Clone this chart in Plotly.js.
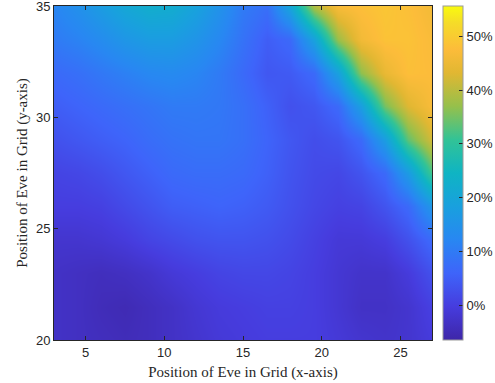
<!DOCTYPE html>
<html>
<head>
<meta charset="utf-8">
<script src="https://cdn.plot.ly/plotly-3.0.1.min.js"></script>
<style>html,body{margin:0;padding:0;background:#fff;}#chart{width:495px;height:383px;}</style>
</head>
<body>
<div id="chart"></div>
<script>
// Eve position grid (x, y) and percentage values (rows follow yPos)
const xPos = [3, 4.5, 6, 7.5, 9, 10.5, 12, 13.5, 15, 16.5, 18, 19.5, 21, 22.5, 24, 25.5, 27];
const yPos = [20, 21.5, 23, 24.5, 26, 27.5, 29, 30.5, 32, 33.5, 35];
const row20   = [-3, -3.5, -4, -4.5, -4, -3, -2, -1, -0.5, 0, 0, 0, -1, -2, -2.5, -2, -0.5];
const row21_5 = [-3, -3.5, -4.5, -5, -4, -3, -1.5, -0.5, 0, 0.5, 0.5, 0, -1.5, -3, -3, -2, 0.5];
const row23   = [-3, -3.5, -4, -3.5, -2.5, -1, 0, 1, 1.5, 1.5, 1, 0, -1.5, -2.5, -2.5, -0.5, 3];
const row24_5 = [-2, -2, -1.5, -0.5, 1, 2, 3, 3.5, 3.5, 3, 2, 0.5, -1, -1, 0, 3, 7];
const row26   = [0, 0, 0.5, 2, 3.5, 5, 5.5, 6, 5.5, 4.5, 3, 1.5, 0.5, 1, 3.5, 7, 16];
const row27_5 = [1, 1.5, 2.5, 4, 5.5, 7, 7.5, 7.5, 7, 5.5, 3.5, 2, 1.5, 3.5, 7, 17, 32];
const row29   = [3, 4, 5, 6, 7.5, 8.5, 9, 9, 8, 6, 4, 2.5, 3.5, 7, 17.5, 33.5, 42];
const row30_5 = [5, 6, 7, 8, 9, 10, 10, 9.5, 8, 5.5, 3, 4, 7, 18, 35, 43, 47];
const row32   = [7, 8, 9.5, 11, 12.5, 13, 12, 10, 7, 4, 4.5, 7, 18.5, 36.5, 44.5, 48, 47.5];
const row33_5 = [10, 11.5, 13.5, 16, 17.5, 17.5, 15.5, 12.5, 8.5, 5, 7, 19, 37.5, 46, 48.5, 48.5, 47];
const row35   = [12, 14.5, 17.5, 20.5, 22.5, 22, 19, 15, 10, 8, 20, 39, 47, 48, 49, 48, 46];
const zValues = [row20, row21_5, row23, row24_5, row26, row27_5, row29, row30_5, row32, row33_5, row35];
const cbTicks = [0, 10, 20, 30, 40, 50];

const parula = [
  [0.0, 'rgb(62,38,168)'],
  [0.1, 'rgb(70,60,222)'],
  [0.2, 'rgb(62,100,250)'],
  [0.3, 'rgb(40,135,242)'],
  [0.4, 'rgb(25,160,222)'],
  [0.5, 'rgb(15,180,195)'],
  [0.6, 'rgb(50,195,150)'],
  [0.7, 'rgb(150,192,75)'],
  [0.8, 'rgb(225,183,50)'],
  [0.87, 'rgb(252,188,58)'],
  [0.95, 'rgb(245,220,40)'],
  [1.0, 'rgb(249,251,14)']
];

const tickFont = {family: 'Liberation Sans, Arial, sans-serif', size: 13, color: '#262626'};
const titleFont = {family: 'Liberation Serif, Times New Roman, serif', size: 15, color: '#262626'};

const data = [{
  type: 'heatmap',
  x: xPos,
  y: yPos,
  z: zValues,
  zsmooth: 'best',
  colorscale: parula,
  zmin: -6.4,
  zmax: 55.6,
  colorbar: {
    x: 1.029, xanchor: 'left', xpad: 0,
    y: 0.5, yanchor: 'middle', ypad: 0,
    len: 1, lenmode: 'fraction',
    thickness: 20,
    outlinecolor: '#9a9a9a', outlinewidth: 1,
    tickvals: cbTicks,
    ticktext: cbTicks.map(v => v + '%'),
    ticks: 'inside', ticklen: 4, tickcolor: '#262626',
    tickfont: tickFont
  }
}];

const layout = {
  width: 495, height: 383,
  margin: {l: 54, r: 63, t: 6, b: 43, autoexpand: false},
  paper_bgcolor: '#fff', plot_bgcolor: '#fff',
  xaxis: {
    range: [3, 27],
    tickvals: [5, 10, 15, 20, 25],
    ticks: 'inside', ticklen: 4, tickcolor: '#262626',
    showgrid: false, zeroline: false,
    showline: true, mirror: 'ticks', linecolor: '#262626', linewidth: 1,
    tickfont: tickFont,
    title: {text: 'Position of Eve in Grid (x-axis)', font: titleFont, standoff: 7}
  },
  yaxis: {
    range: [20, 35.0001],
    tickvals: [20, 25, 30, 35],
    ticks: 'inside', ticklen: 4, tickcolor: '#262626',
    ticklabeloverflow: 'allow',
    showgrid: false, zeroline: false,
    showline: true, mirror: 'ticks', linecolor: '#262626', linewidth: 1,
    tickfont: tickFont,
    title: {text: 'Position of Eve in Grid (y-axis)', font: titleFont, standoff: 4}
  },
  showlegend: false
};

Plotly.newPlot('chart', data, layout, {displayModeBar: false, staticPlot: true});
</script>
</body>
</html>
